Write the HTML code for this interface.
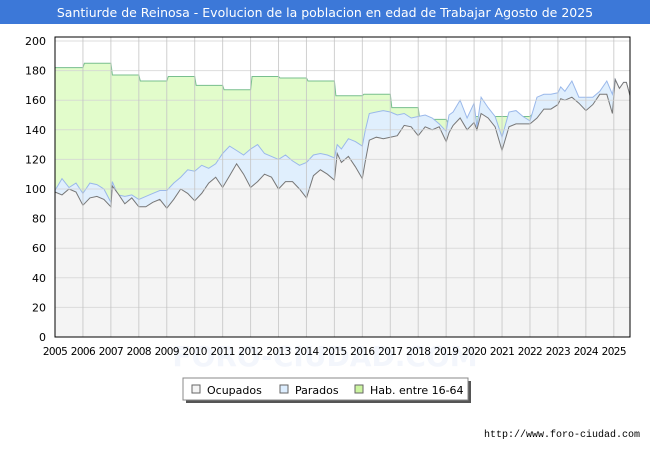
<!DOCTYPE html>
<html><head><meta charset="utf-8"><style>
body{margin:0;background:#fff;font-family:"DejaVu Sans","Liberation Sans",sans-serif;}
#wrap{position:relative;width:650px;height:450px;overflow:hidden;}
</style></head><body>
<div id="wrap">
<svg id="chart" width="650" height="450" xmlns="http://www.w3.org/2000/svg">
<rect x="0" y="0" width="650" height="24" fill="#3c78d8"/>
<text x="325" y="17" text-anchor="middle" fill="#fff" font-size="12.5">Santiurde de Reinosa - Evolucion de la poblacion en edad de Trabajar Agosto de 2025</text>
<text x="325" y="366" text-anchor="middle" fill="#f3f6fc" font-size="28" font-weight="bold">FORO-CIUDAD.COM</text>
<g id="grid"></g><g id="series"></g><g id="axes"></g>
<g>
<rect x="186" y="381" width="285" height="22" fill="#555"/>
<rect x="183" y="378" width="285" height="22" fill="#fff" stroke="#888"/>
<rect x="192" y="385" width="8" height="8" fill="#f4f4f4" stroke="#666"/>
<text x="207" y="394" font-size="11" fill="#000">Ocupados</text>
<rect x="280" y="385" width="8" height="8" fill="#ddeeff" stroke="#666"/>
<text x="295" y="394" font-size="11" fill="#000">Parados</text>
<rect x="355" y="385" width="8" height="8" fill="#ccf5a0" stroke="#666"/>
<text x="370" y="394" font-size="11" fill="#000">Hab. entre 16-64</text>
</g>
<text x="640" y="437" text-anchor="end" font-size="10" fill="#000" font-family="Liberation Mono, monospace">http://www.foro-ciudad.com</text>
</svg>
</div>
<script>
const habYears=[2005,2006,2007,2008,2009,2010,2011,2012,2013,2014,2015,2016,2017,2018,2019,2020,2021,2022,2023,2024,2025];
const habValues=[182,185,177,173,176,170,167,176,175,173,163,164,155,147,145,149,149,150,158,158,160];
const times=[2005,2005.25,2005.5,2005.75,2006,2006.25,2006.5,2006.75,2007,2007.05,2007.25,2007.5,2007.75,2008,2008.25,2008.5,2008.75,2009,2009.25,2009.5,2009.75,2010,2010.25,2010.5,2010.75,2011,2011.25,2011.5,2011.75,2012,2012.25,2012.5,2012.75,2013,2013.25,2013.5,2013.75,2014,2014.25,2014.5,2014.75,2015,2015.1,2015.25,2015.5,2015.75,2016,2016.1,2016.25,2016.5,2016.75,2017,2017.25,2017.5,2017.75,2018,2018.25,2018.5,2018.75,2019,2019.1,2019.25,2019.5,2019.75,2020,2020.1,2020.25,2020.5,2020.75,2021,2021.25,2021.5,2021.75,2022,2022.25,2022.5,2022.75,2023,2023.1,2023.25,2023.5,2023.75,2024,2024.25,2024.5,2024.75,2024.95,2025.05,2025.2,2025.35,2025.45,2025.58];
const ocupados=[98,96,100,98,89,94,95,93,88,102,97,90,94,88,88,91,93,87,93,100,97,92,97,104,108,101,109,117,110,101,105,110,108,100,105,105,100,94,109,113,110,106,124,118,122,115,107,118,133,135,134,135,136,143,142,136,142,140,142,132,138,143,148,140,145,140,151,148,142,126,142,144,144,144,148,154,154,157,161,160,162,158,153,157,164,164,151,174,168,172,172,163];
const parados=[99,107,101,104,97,104,103,100,91,105,96,95,96,93,95,97,99,99,104,108,113,112,116,114,117,124,129,126,123,127,130,124,122,120,123,119,116,118,123,124,123,121,130,127,134,132,129,139,151,152,153,152,150,151,148,149,150,148,144,139,150,152,160,148,158,142,162,155,149,135,152,153,149,146,162,164,164,165,169,166,173,162,162,162,166,173,164,174,168,172,172,163];
const yTicks=[0,20,40,60,80,100,120,140,160,180,200];
const xTicks=[2005,2006,2007,2008,2009,2010,2011,2012,2013,2014,2015,2016,2017,2018,2019,2020,2021,2022,2023,2024,2025];
const L=55,R=630,T=37,B=337,tEnd=2025.58;
const xs=t=>L+(t-2005)/(tEnd-2005)*(R-L);
const ys=v=>B-v/200*(B-T-4);
const NS="http://www.w3.org/2000/svg";
function mk(tag,attrs,parent){const e=document.createElementNS(NS,tag);for(const k in attrs)e.setAttribute(k,attrs[k]);parent.appendChild(e);return e;}
const grid=document.getElementById('grid'),ser=document.getElementById('series'),ax=document.getElementById('axes');
mk('rect',{x:L,y:T,width:R-L,height:B-T,fill:'#fff'},grid);
let hp=[];habYears.forEach((y,i)=>{const x0=xs(y),x1=xs(i<habYears.length-1?habYears[i+1]:tEnd);hp.push([x0+(i?1.5:0),ys(habValues[i])],[x1,ys(habValues[i])]);});
function area(pts,fill,stroke,name){const d='M'+pts.map(p=>p[0].toFixed(1)+','+p[1].toFixed(1)).join('L');
const a=mk('path',{d:d+`L${R},${B}L${L},${B}Z`,fill:fill},ser);
const l=mk('path',{d:d,fill:'none',stroke:stroke,'stroke-width':1},ser);}
area(hp,'#e2fccb','#78bf8e','hab-series');
area(times.map((t,i)=>[xs(t),ys(parados[i])]),'#e0effd','#9ab8ea','parados-series');
area(times.map((t,i)=>[xs(t),ys(ocupados[i])]),'#f4f4f4','#777','ocupados-series');
yTicks.forEach(v=>{const l=mk('line',{x1:L,x2:R,y1:ys(v),y2:ys(v),stroke:'#d4d4d4','stroke-opacity':0.8},ax);

const t=mk('text',{x:46,y:ys(v)+4,'text-anchor':'end','font-size':11,fill:'#000'},ax);t.textContent=v;
});
xTicks.forEach(v=>{const l=mk('line',{x1:xs(v),x2:xs(v),y1:T,y2:B,stroke:'#c4c4c4','stroke-opacity':0.8},ax);

const t=mk('text',{x:xs(v),y:355,'text-anchor':'middle','font-size':10.5,'letter-spacing':'-0.6',fill:'#000'},ax);t.textContent=v;
});
const f=mk('path',{d:`M${L},${B}L${L},${T}L${R},${T}L${R},${B}Z`,fill:'none',stroke:'#000','stroke-width':1},ax);

</script>
</body></html>
